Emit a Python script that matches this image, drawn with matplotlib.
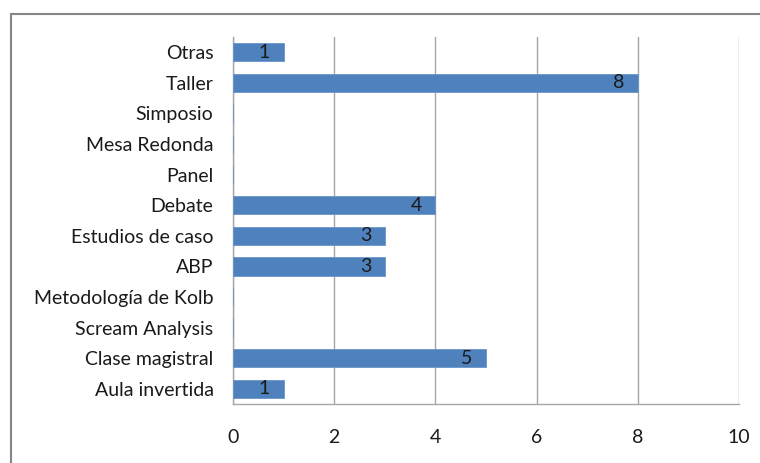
import matplotlib.pyplot as plt
from matplotlib.patches import Rectangle

categorias = ['Aula invertida', 'Clase magistral', 'Scream Analysis',
              'Metodología de Kolb', 'ABP', 'Estudios de caso', 'Debate',
              'Panel', 'Mesa Redonda', 'Simposio', 'Taller', 'Otras']
valores = [1, 5, 0, 0, 3, 3, 4, 0, 0, 0, 8, 1]
xticks = [0, 2, 4, 6, 8, 10]

plt.rcParams['font.family'] = ['Lato', 'DejaVu Sans']

fig = plt.figure(figsize=(7.6, 4.63), dpi=100)
ax = fig.add_axes([233 / 760, 59 / 463, 506 / 760, 367 / 463])

# marco exterior del gráfico
fig.patches.append(Rectangle((11 / 760, -0.05), 1.0, (463 - 14) / 463 + 0.05,
                             transform=fig.transFigure, fill=False,
                             edgecolor='#868686', linewidth=1.5))

pos = range(len(categorias))
barras = ax.barh(pos, valores, height=0.6, color='#4F81BD',
                 edgecolor='#6A95C9', linewidth=0.6, zorder=3)

for p, v in zip(pos, valores):
    if v > 0:
        ax.annotate(str(v), (v, p), xytext=(-14, 0), textcoords='offset points',
                    ha='center', va='center', fontsize=14, color='#1a1a1a',
                    zorder=4)

ax.set_xlim(0, 10)
ax.set_ylim(-0.5, len(categorias) - 0.5)
ax.set_xticks(xticks)
ax.set_yticks(list(pos))
ax.set_yticklabels(categorias)
ax.xaxis.grid(True, color='#A6A6A6', linewidth=1.0, zorder=0)
ax.tick_params(axis='both', length=0, labelsize=14, colors='#1a1a1a')
ax.tick_params(axis='y', pad=14)
ax.tick_params(axis='x', pad=18)

for lado in ['top', 'right']:
    ax.spines[lado].set_visible(False)
for lado in ['left', 'bottom']:
    ax.spines[lado].set_color('#A6A6A6')
    ax.spines[lado].set_linewidth(1.0)

fig.savefig('out.png', dpi=100)
